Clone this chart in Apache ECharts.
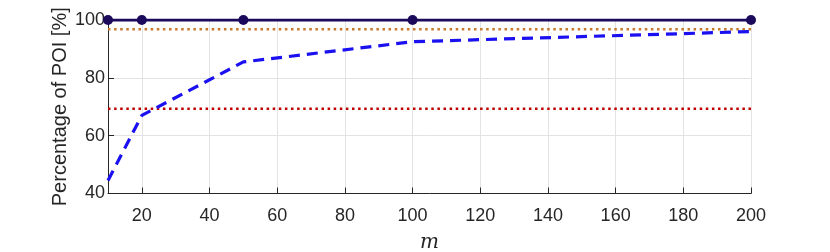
<!DOCTYPE html>
<html>
<head>
<meta charset="utf-8">
<script src="https://cdn.jsdelivr.net/npm/echarts@6/dist/echarts.min.js"></script>
<style>html,body{margin:0;padding:0;background:#fff}#c{width:830px;height:252px}</style>
</head>
<body>
<div id="c"></div>
<script>
// data
var mValues = [10, 20, 50, 100, 200];
var ourMethod = [100, 100, 100, 100, 100];
var dashedSeries = [44.5, 67, 85.5, 92.5, 96];
var orangeLevel = 96.8;
var redLevel = 69.3;
var xTicks = [20, 40, 60, 80, 100, 120, 140, 160, 180, 200];
var yTicks = [40, 60, 80, 100];
var xRange = [10, 200];
var yRange = [40, 100];

function pairs(xs, ys) { return xs.map(function (x, i) { return [x, ys[i]]; }); }
function flat(v) { return [[xRange[0], v], [xRange[1], v]]; }

var chart = echarts.init(document.getElementById('c'), null, { renderer: 'canvas' });
var axisColor = '#262626';
var font = 'Liberation Sans, Arial, Helvetica, sans-serif';
chart.setOption({
  animation: false,
  grid: { left: 108, right: 79, top: 20, bottom: 58.5, outerBoundsMode: 'none', containLabel: false },
  xAxis: {
    type: 'value', min: xRange[0], max: xRange[1],
    name: 'm', nameLocation: 'middle', nameGap: 39, nameMoveOverlap: false,
    nameTextStyle: { fontFamily: 'DejaVu Serif, Liberation Serif, serif', fontStyle: 'italic', fontSize: 20, color: axisColor },
    axisLine: { show: true, onZero: false, lineStyle: { color: axisColor, width: 1 } },
    axisTick: { show: true, inside: true, length: 6, customValues: xTicks, lineStyle: { color: axisColor } },
    axisLabel: { customValues: xTicks, fontSize: 18, color: axisColor, fontFamily: font, margin: 14 },
    splitLine: { show: true, lineStyle: { color: '#e3e3e3', width: 1 } }
  },
  yAxis: {
    type: 'value', min: yRange[0], max: yRange[1], interval: 20,
    name: 'Percentage of POI [%]', nameLocation: 'middle', nameGap: 38, nameMoveOverlap: false,
    nameTextStyle: { fontSize: 20, color: axisColor, fontFamily: font },
    axisLine: { show: true, onZero: false, lineStyle: { color: axisColor, width: 1 } },
    axisTick: { show: true, inside: true, length: 6, lineStyle: { color: axisColor } },
    axisLabel: { fontSize: 18, color: axisColor, fontFamily: font, margin: 3,
      formatter: function (v) { return yTicks.indexOf(v) >= 0 ? String(v) : ''; } },
    splitLine: { show: true, lineStyle: { color: '#e3e3e3', width: 1 } }
  },
  series: [
    { type: 'line', data: flat(orangeLevel), symbol: 'none', z: 2,
      lineStyle: { color: '#c8782a', width: 2.5, type: [2.5, 3.6] } },
    { type: 'line', data: flat(redLevel), symbol: 'none', z: 2,
      lineStyle: { color: '#c00000', width: 2.5, type: [2.5, 3.6] } },
    { type: 'line', data: pairs(mValues, dashedSeries), symbol: 'none', z: 3,
      lineStyle: { color: '#1a10f0', width: 3.2, type: [11, 7] } },
    { type: 'line', data: pairs(mValues, ourMethod), symbol: 'circle', symbolSize: 10, z: 4,
      itemStyle: { color: '#1b0a5c' },
      lineStyle: { color: '#1b0a5c', width: 2.8 } }
  ]
});
</script>
</body>
</html>
